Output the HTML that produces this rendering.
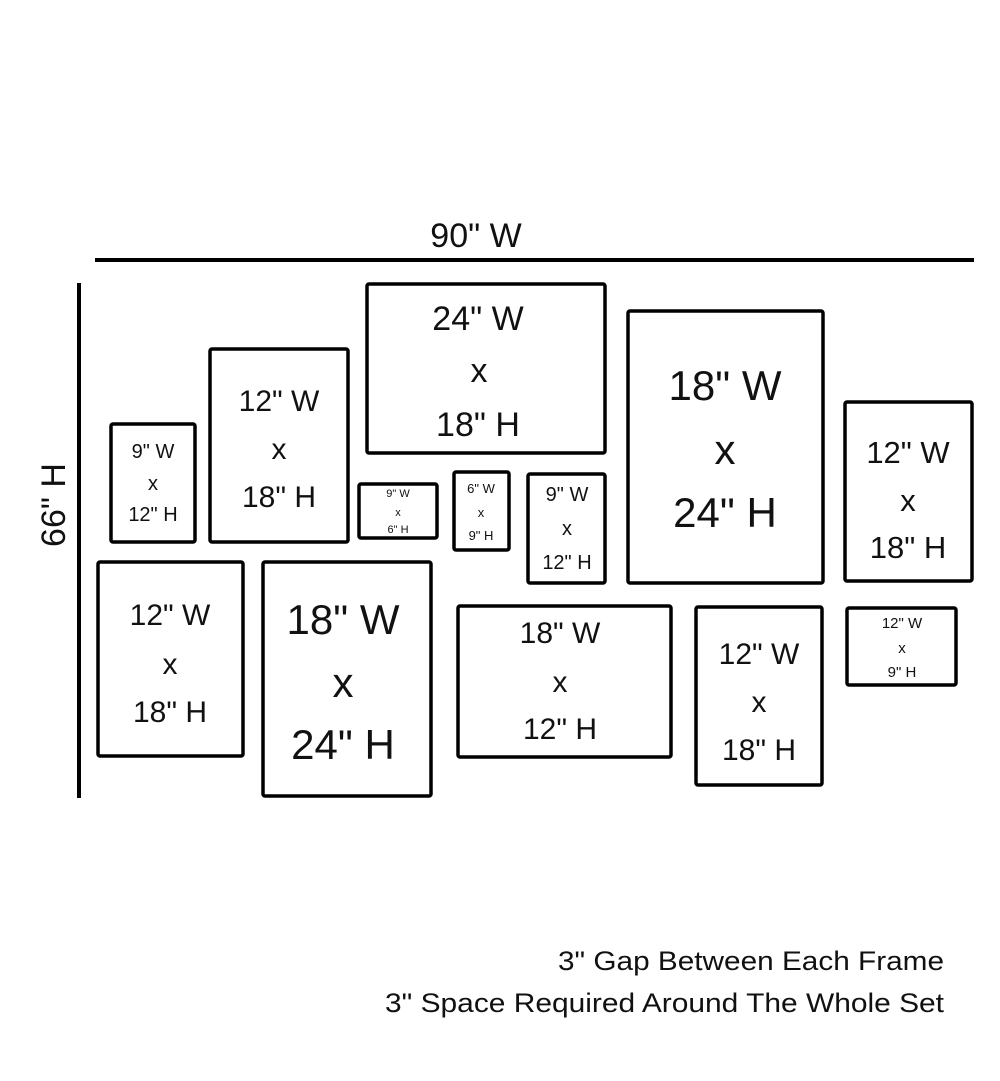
<!DOCTYPE html>
<html><head><meta charset="utf-8"><style>html,body{margin:0;padding:0;background:#fff}svg{display:block}</style></head>
<body>
<svg width="1000" height="1081" viewBox="0 0 1000 1081" xmlns="http://www.w3.org/2000/svg" font-family="Liberation Sans, sans-serif" fill="#111">
<g stroke="#000" stroke-width="4" fill="none">
<line x1="95" y1="260" x2="974" y2="260"/>
<line x1="79" y1="283" x2="79" y2="798"/>
</g>
<g stroke="#000" stroke-width="3.5" fill="none">
<rect x="111" y="424" width="84" height="118" rx="2"/>
<rect x="210" y="349" width="138" height="193" rx="2"/>
<rect x="367" y="284" width="238" height="169" rx="2"/>
<rect x="359" y="484" width="78" height="54" rx="2"/>
<rect x="454" y="472" width="55" height="78" rx="2"/>
<rect x="528" y="474" width="77" height="109" rx="2"/>
<rect x="628" y="311" width="195" height="272" rx="2"/>
<rect x="845" y="402" width="127" height="179" rx="2"/>
<rect x="847" y="608" width="109" height="77" rx="2"/>
<rect x="98" y="562" width="145" height="194" rx="2"/>
<rect x="263" y="562" width="168" height="234" rx="2"/>
<rect x="458" y="606" width="213" height="151" rx="2"/>
<rect x="696" y="607" width="126" height="178" rx="2"/>
</g>
<g text-anchor="middle">
<text x="476" y="247" font-size="34">90" W</text>
<text transform="translate(65,505) rotate(-90)" font-size="34">66" H</text>

<g font-size="20"><text x="153" y="458">9" W</text><text x="153" y="490">x</text><text x="153" y="521">12" H</text></g>
<g font-size="30"><text x="279" y="411">12" W</text><text x="279" y="459">x</text><text x="279" y="507">18" H</text></g>
<g font-size="34"><text x="478" y="330">24" W</text><text x="479" y="382">x</text><text x="478" y="436">18" H</text></g>
<g font-size="11"><text x="398" y="497">9" W</text><text x="398" y="516">x</text><text x="398" y="533">6" H</text></g>
<g font-size="13"><text x="481" y="493">6" W</text><text x="481" y="517">x</text><text x="481" y="540">9" H</text></g>
<g font-size="20"><text x="567" y="501">9" W</text><text x="567" y="535">x</text><text x="567" y="569">12" H</text></g>
<g font-size="42"><text x="725" y="400">18" W</text><text x="725" y="464">x</text><text x="725" y="527">24" H</text></g>
<g font-size="31"><text x="908" y="463">12" W</text><text x="908" y="511">x</text><text x="908" y="558">18" H</text></g>
<g font-size="15"><text x="902" y="628">12" W</text><text x="902" y="653">x</text><text x="902" y="677">9" H</text></g>
<g font-size="30"><text x="170" y="625">12" W</text><text x="170" y="674">x</text><text x="170" y="722">18" H</text></g>
<g font-size="42"><text x="343" y="634">18" W</text><text x="343" y="697">x</text><text x="343" y="759">24" H</text></g>
<g font-size="30"><text x="560" y="643">18" W</text><text x="560" y="692">x</text><text x="560" y="739">12" H</text></g>
<g font-size="30"><text x="759" y="664">12" W</text><text x="759" y="712">x</text><text x="759" y="760">18" H</text></g>
</g>
<g text-anchor="end" font-size="27">
<text x="944" y="970" textLength="386" lengthAdjust="spacingAndGlyphs">3" Gap Between Each Frame</text>
<text x="944" y="1012" textLength="559" lengthAdjust="spacingAndGlyphs">3" Space Required Around The Whole Set</text>
</g>
</svg>
</body></html>
